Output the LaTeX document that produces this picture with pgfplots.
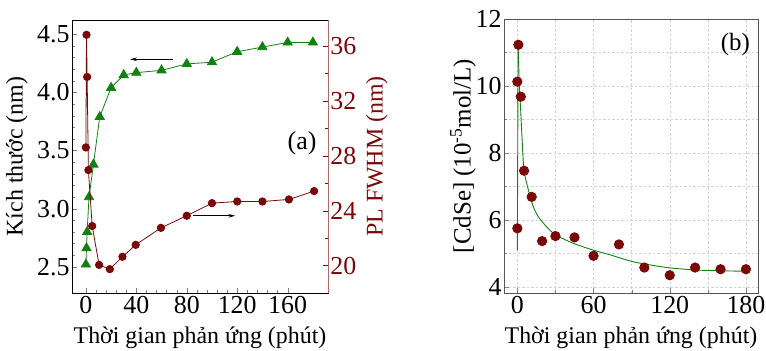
\documentclass[border=0pt]{standalone}
\usepackage{fontspec}
\setmainfont{Liberation Serif}
\usepackage{pgfplots}
\pgfplotsset{compat=1.18}
\usetikzlibrary{arrows.meta}

\definecolor{sizegreen}{RGB}{20,128,20}
\definecolor{fwhmred}{RGB}{122,8,8}
\definecolor{spinered}{RGB}{176,104,104}
\definecolor{framegray}{RGB}{85,85,85}

\begin{document}
\begin{tikzpicture}[x=1bp,y=1bp]
\path[use as bounding box] (0,0) rectangle (766,350);
\pgfplotsset{
  every axis/.append style={
    scale only axis,
    font=\fontsize{24}{28}\selectfont,
    tick label style={font=\fontsize{26}{30}\selectfont},
    tick align=inside,
    major tick length=5bp,
    minor tick length=3bp,
    /pgf/number format/assume math mode=true,
    line width=0.8bp,
    xticklabel style={inner sep=1bp, yshift=-2bp},
    yticklabel style={inner sep=2bp},
  },
}

% (a) particle size, left axis
\begin{axis}[
  at={(72bp,57bp)}, anchor=south west,
  width=256bp, height=273bp,
  xmin=-11, xmax=192, ymin=2.274, ymax=4.623,
  xtick={0,40,80,120,160}, minor x tick num=4,
  ytick={2.5,3,3.5,4,4.5}, minor y tick num=4,
  yticklabel style={/pgf/number format/.cd,fixed,fixed zerofill,precision=1},
  xtick pos=bottom, ytick pos=left,
  axis line style={black},
  xlabel={Thời gian phản ứng (phút)},
  xlabel style={at={(axis description cs:0.5,-0.165)}, anchor=center},
  ylabel={Kích thước (nm)},
  ylabel style={at={(axis description cs:-0.215,0.5)}, anchor=center},
]
\addplot[sizegreen, line width=0.8bp, mark=triangle*, mark size=5.3bp,
  mark options={fill=sizegreen, draw=sizegreen}] coordinates {
  (0,2.52) (0.5,2.66) (1,2.80) (2.5,3.10) (6,3.38) (11,3.79) (20,4.04)
  (30,4.15) (40,4.17) (60,4.19) (80,4.245) (100,4.26) (120,4.35)
  (140,4.39) (160,4.43) (180,4.43)
};
\draw[-{Stealth[length=7bp,width=3.5bp]}, line width=0.8bp, black]
  (axis cs:69,4.285) -- (axis cs:35,4.285);
\node[font=\fontsize{26}{30}\selectfont] at (axis cs:171.4,3.56) {(a)};
\end{axis}

% (a) PL FWHM, right axis
\begin{axis}[
  at={(72bp,57bp)}, anchor=south west,
  width=256bp, height=273bp,
  xmin=-11, xmax=192, ymin=18, ymax=37.9,
  axis x line=none,
  axis y line*=right,
  tick align=inside,
  y axis line style={spinered,-},
  ytick={20,24,28,32,36}, minor y tick num=1,
  tick style={fwhmred},
  yticklabel style={fwhmred},
  ylabel={PL FWHM (nm)},
  ylabel style={fwhmred, at={(axis description cs:1.191,0.5)}, anchor=center},
]
\addplot[fwhmred, line width=0.8bp, mark=*, mark size=3.7bp,
  mark options={fill=fwhmred, draw=fwhmred}] coordinates {
  (0,28.61) (0.5,36.82) (1,33.75) (2,26.96) (5,22.88) (10.5,20.05)
  (19,19.74) (29,20.64) (39.5,21.51) (59.5,22.75) (80,23.63)
  (100,24.55) (120,24.67) (140,24.67) (161,24.82) (181,25.43)
};
\draw[-{Stealth[length=7bp,width=3.5bp]}, line width=0.8bp, black]
  (axis cs:85,23.63) -- (axis cs:118.5,23.63);
\end{axis}

% (b) CdSe concentration
\begin{axis}[
  at={(504bp,57bp)}, anchor=south west,
  width=254bp, height=274bp,
  xmin=-10.5, xmax=189.5, ymin=3.82, ymax=12,
  xtick={0,60,120,180}, minor x tick num=1,
  ytick={4,6,8,10,12}, minor y tick num=1,
  xtick pos=bottom, ytick pos=left,
  grid=both,
  grid style={gray!35, line width=0.5bp, dash pattern=on 2.5bp off 2bp},
  axis line style={framegray},
  xlabel={Thời gian phản ứng (phút)},
  xlabel style={at={(axis description cs:0.5,-0.164)}, anchor=center},
  ylabel={[CdSe] (10\textsuperscript{-5}mol/L)},
  ylabel style={font=\fontsize{25}{30}\selectfont, at={(axis description cs:-0.161,0.5)}, anchor=center},
]
% fitted decay curve
\addplot[sizegreen, line width=0.9bp] coordinates {
  (0,5.10) (0.6,11.20)
};
\addplot[sizegreen, line width=0.9bp, smooth, tension=0.4] coordinates {
  (0.6,11.20) (1.6,9.98) (2.6,9.29) (3.9,8.29) (5.2,7.49) (8.7,6.89)
  (12.6,6.39) (16.6,6.09) (23.2,5.79) (30.3,5.55) (44.2,5.30)
  (59.9,5.10) (73,4.96) (91.5,4.75) (117.8,4.58) (144,4.50) (178,4.47)
};
\addplot[only marks, mark=*, mark size=4.7bp,
  mark options={fill=fwhmred, draw=fwhmred}] coordinates {
  (0,5.75) (0,10.13) (0.8,11.23) (2.7,9.68) (5.3,7.47) (11.3,6.69)
  (19.5,5.37) (30,5.52) (45,5.48) (60,4.93) (80,5.27) (100,4.58)
  (120,4.35) (140,4.58) (160,4.53) (180,4.53)
};
\node[font=\fontsize{25}{30}\selectfont] at (axis cs:171.7,11.25) {(b)};
\end{axis}
\end{tikzpicture}
\end{document}
